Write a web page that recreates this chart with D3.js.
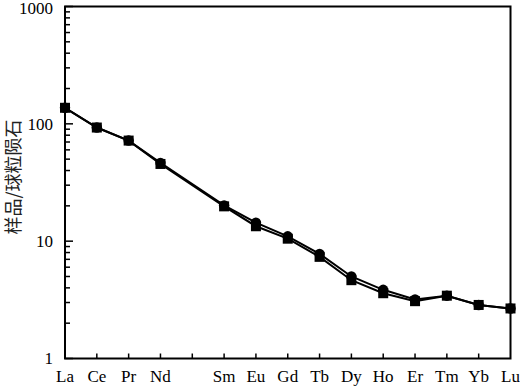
<!DOCTYPE html>
<html>
<head>
<meta charset="utf-8">
<script src="https://cdn.jsdelivr.net/npm/d3@7"></script>
<style>
  body { margin: 0; background: #fff; }
  svg { display: block; }
</style>
</head>
<body>
<div id="chart"></div>
<script>
// REE elements (Pm left blank on the axis)
const elements = ["La", "Ce", "Pr", "Nd", "Pm", "Sm", "Eu", "Gd", "Tb", "Dy", "Ho", "Er", "Tm", "Yb", "Lu"];
const circleSeries = [137, 93, 72, 46.5, null, 20.2, 14.4, 11.0, 7.8, 5.0, 3.85, 3.18, 3.43, 2.86, 2.67];
const squareSeries = [137, 93, 72, 45.5, null, 19.8, 13.4, 10.5, 7.35, 4.65, 3.6, 3.08, 3.43, 2.86, 2.67];
const yTicks = [1, 10, 100, 1000];

const width = 520, height = 386;
const margin = { left: 65, right: 9.5, top: 6.5, bottom: 27.5 };

const svg = d3.select("#chart").append("svg")
    .attr("width", width)
    .attr("height", height);

const x = d3.scalePoint()
    .domain(elements)
    .range([margin.left, width - margin.right]);

const y = d3.scaleLog()
    .domain([1, 1000])
    .range([height - margin.bottom, margin.top]);

const fontFamily = "'Liberation Serif', 'Times New Roman', serif";

// frame
svg.append("rect")
    .attr("x", margin.left)
    .attr("y", margin.top)
    .attr("width", width - margin.left - margin.right)
    .attr("height", height - margin.top - margin.bottom)
    .attr("fill", "none")
    .attr("stroke", "#000")
    .attr("stroke-width", 2);

// y axis: major + minor ticks pointing inward
const minorTicks = [];
for (let d = 1; d < 1000; d *= 10) {
    for (let k = 2; k <= 9; k++) minorTicks.push(d * k);
}

svg.append("g")
    .selectAll("line")
    .data(minorTicks)
    .enter()
    .append("line")
    .attr("x1", margin.left)
    .attr("x2", margin.left + 5)
    .attr("y1", d => y(d))
    .attr("y2", d => y(d))
    .attr("stroke", "#000")
    .attr("stroke-width", 1.5);

svg.append("g")
    .selectAll("line")
    .data(yTicks)
    .enter()
    .append("line")
    .attr("x1", margin.left)
    .attr("x2", margin.left + 8)
    .attr("y1", d => y(d))
    .attr("y2", d => y(d))
    .attr("stroke", "#000")
    .attr("stroke-width", 1.5);

// top label nudged down so it stays inside the page
svg.append("g")
    .selectAll("text")
    .data(yTicks)
    .enter()
    .append("text")
    .attr("x", margin.left - 12)
    .attr("y", d => Math.max(y(d), 8.5))
    .attr("dy", "0.35em")
    .attr("text-anchor", "end")
    .attr("font-family", fontFamily)
    .attr("font-size", "17px")
    .text(d => d);

// x axis ticks pointing up
svg.append("g")
    .selectAll("line")
    .data(elements.slice(1, -1))
    .enter()
    .append("line")
    .attr("x1", d => x(d))
    .attr("x2", d => x(d))
    .attr("y1", y(1))
    .attr("y2", y(1) - 5)
    .attr("stroke", "#000")
    .attr("stroke-width", 1.5);

svg.append("g")
    .selectAll("text")
    .data(elements.filter(d => d !== "Pm"))
    .enter()
    .append("text")
    .attr("x", d => x(d))
    .attr("y", 382)
    .attr("text-anchor", "middle")
    .attr("font-family", fontFamily)
    .attr("font-size", "17px")
    .text(d => d);

// y label
svg.append("text")
    .attr("transform", `translate(20, 177) rotate(-90)`)
    .attr("text-anchor", "middle")
    .attr("font-family", "'Noto Sans CJK SC', sans-serif")
    .attr("font-size", "18px")
    .attr("fill", "#222")
    .text("样品/球粒陨石");

// series
const line = d3.line()
    .defined(d => d.v != null)
    .x(d => x(d.el))
    .y(d => y(d.v));

const toPoints = vals => elements.map((el, i) => ({ el, v: vals[i] })).filter(d => d.v != null);

const circlePts = toPoints(circleSeries);
const squarePts = toPoints(squareSeries);

[circlePts, squarePts].forEach(pts => {
    svg.append("path")
        .datum(pts)
        .attr("d", line)
        .attr("fill", "none")
        .attr("stroke", "#000")
        .attr("stroke-width", 2);
});

svg.append("g")
    .selectAll("circle")
    .data(circlePts)
    .enter()
    .append("circle")
    .attr("cx", d => x(d.el))
    .attr("cy", d => y(d.v))
    .attr("r", 5.2)
    .attr("fill", "#000");

const sq = 10;
svg.append("g")
    .selectAll("rect")
    .data(squarePts)
    .enter()
    .append("rect")
    .attr("x", d => x(d.el) - sq / 2)
    .attr("y", d => y(d.v) - sq / 2)
    .attr("width", sq)
    .attr("height", sq)
    .attr("fill", "#000");
</script>
</body>
</html>
